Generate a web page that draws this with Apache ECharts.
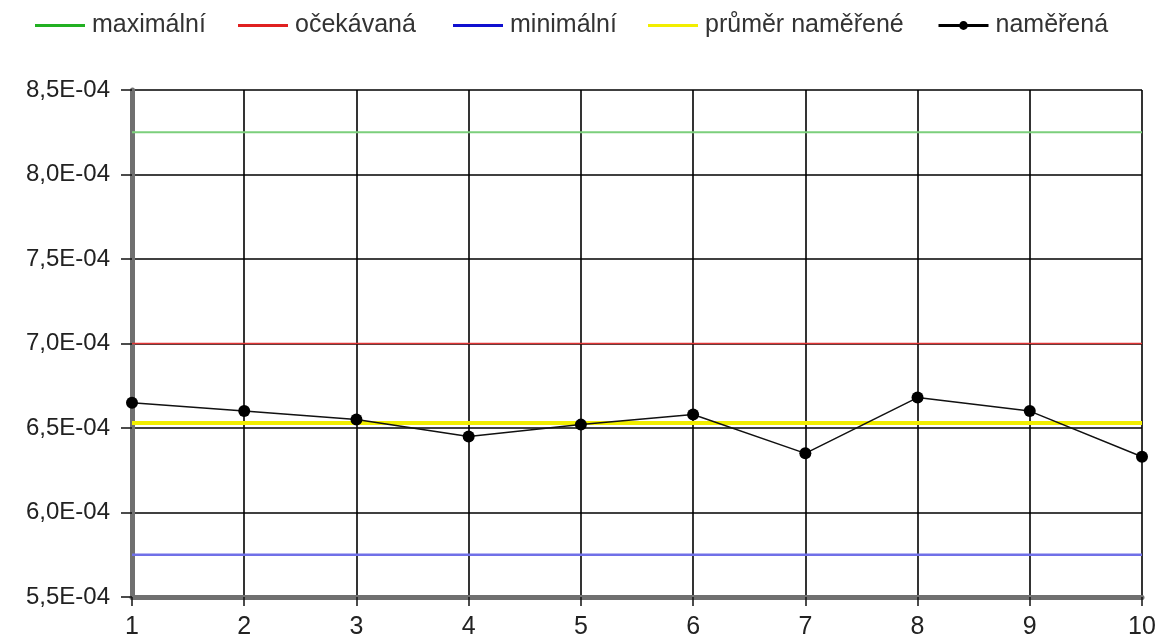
<!DOCTYPE html>
<html>
<head>
<meta charset="utf-8">
<script src="https://cdn.jsdelivr.net/npm/echarts@6/dist/echarts.min.js"></script>
<style>html,body{margin:0;padding:0;background:#fff}#c{width:1170px;height:642px}</style>
</head>
<body>
<div id="c"></div>
<script>
const categories = ['1','2','3','4','5','6','7','8','9','10'];
const maximalni = [8.25e-4,8.25e-4,8.25e-4,8.25e-4,8.25e-4,8.25e-4,8.25e-4,8.25e-4,8.25e-4,8.25e-4];
const ocekavana = [7.0e-4,7.0e-4,7.0e-4,7.0e-4,7.0e-4,7.0e-4,7.0e-4,7.0e-4,7.0e-4,7.0e-4];
const minimalni = [5.75e-4,5.75e-4,5.75e-4,5.75e-4,5.75e-4,5.75e-4,5.75e-4,5.75e-4,5.75e-4,5.75e-4];
const prumer = [6.53e-4,6.53e-4,6.53e-4,6.53e-4,6.53e-4,6.53e-4,6.53e-4,6.53e-4,6.53e-4,6.53e-4];
const namerena = [6.65e-4,6.60e-4,6.55e-4,6.45e-4,6.52e-4,6.58e-4,6.35e-4,6.68e-4,6.60e-4,6.33e-4];
const seriesNames = ['maximální','očekávaná','minimální','průměr naměřené','naměřená'];

function fmt(v){
  const s = v.toExponential(1);
  const parts = s.split('e');
  let exp = parseInt(parts[1],10);
  const sign = exp < 0 ? '-' : '+';
  exp = Math.abs(exp);
  return parts[0].replace('.', ',') + 'E' + sign + (exp < 10 ? '0' + exp : exp);
}

const FONT = 'Liberation Sans';
const legendLefts = [30, 233, 448, 643, 932];
const legendColors = ['#22b022', '#e02020', '#1010d0', '#f2ee00', '#000'];
const legends = seriesNames.map((n, i) => {
  const isLast = i === 4;
  return {
    data: [isLast ? { name: n, lineStyle: { width: 3, color: '#000' } } : { name: n }],
    left: legendLefts[i],
    top: 8,
    icon: isLast ? undefined : 'rect',
    itemWidth: 50,
    itemHeight: isLast ? 11 : 3,
    itemGap: 12,
    itemStyle: { color: legendColors[i] },
    textStyle: { fontFamily: FONT, fontSize: 25, color: '#333', padding: [0, 0, 0, 2] },
    selectedMode: false
  };
});

const chart = echarts.init(document.getElementById('c'), null, { renderer: 'canvas' });
chart.setOption({
  animation: false,
  backgroundColor: '#fff',
  legend: legends,
  grid: { left: 132, right: 28, top: 90, bottom: 45, containLabel: false },
  xAxis: {
    type: 'category',
    data: categories,
    boundaryGap: false,
    axisLine: { show: true, lineStyle: { color: '#707070', width: 5 } },
    axisTick: { show: true, length: 9, lineStyle: { color: '#111', width: 1.5 } },
    axisLabel: { fontFamily: FONT, fontSize: 25, color: '#222', margin: 18 },
    splitLine: { show: true, lineStyle: { color: '#000', width: 1.6 } }
  },
  yAxis: {
    type: 'value',
    min: 5.5e-4, max: 8.5e-4, interval: 0.5e-4,
    axisLine: { show: true, lineStyle: { color: '#707070', width: 5 } },
    axisTick: { show: true, length: 11, lineStyle: { color: '#111', width: 1.5 } },
    axisLabel: { fontFamily: FONT, fontSize: 24, color: '#222', margin: 22, formatter: fmt },
    splitLine: { show: true, lineStyle: { color: '#000', width: 1.6 } }
  },
  series: [
    { name: seriesNames[0], type: 'line', data: maximalni, symbol: 'none',
      lineStyle: { color: '#7ccf7c', width: 2 }, itemStyle: { color: '#22b022' }, z: 3 },
    { name: seriesNames[1], type: 'line', data: ocekavana, symbol: 'none',
      lineStyle: { color: '#e03535', width: 1.5 }, itemStyle: { color: '#e02020' }, z: 3 },
    { name: seriesNames[2], type: 'line', data: minimalni, symbol: 'none',
      lineStyle: { color: '#7070e8', width: 2.5 }, itemStyle: { color: '#1010d0' }, z: 3 },
    { name: seriesNames[3], type: 'line', data: prumer, symbol: 'none',
      lineStyle: { color: '#f2ee00', width: 4 }, itemStyle: { color: '#f2ee00' }, z: 4 },
    { name: seriesNames[4], type: 'line', data: namerena, symbol: 'circle', symbolSize: 12,
      lineStyle: { color: '#111', width: 1.5 }, itemStyle: { color: '#000' }, z: 5 }
  ]
});
</script>
</body>
</html>
